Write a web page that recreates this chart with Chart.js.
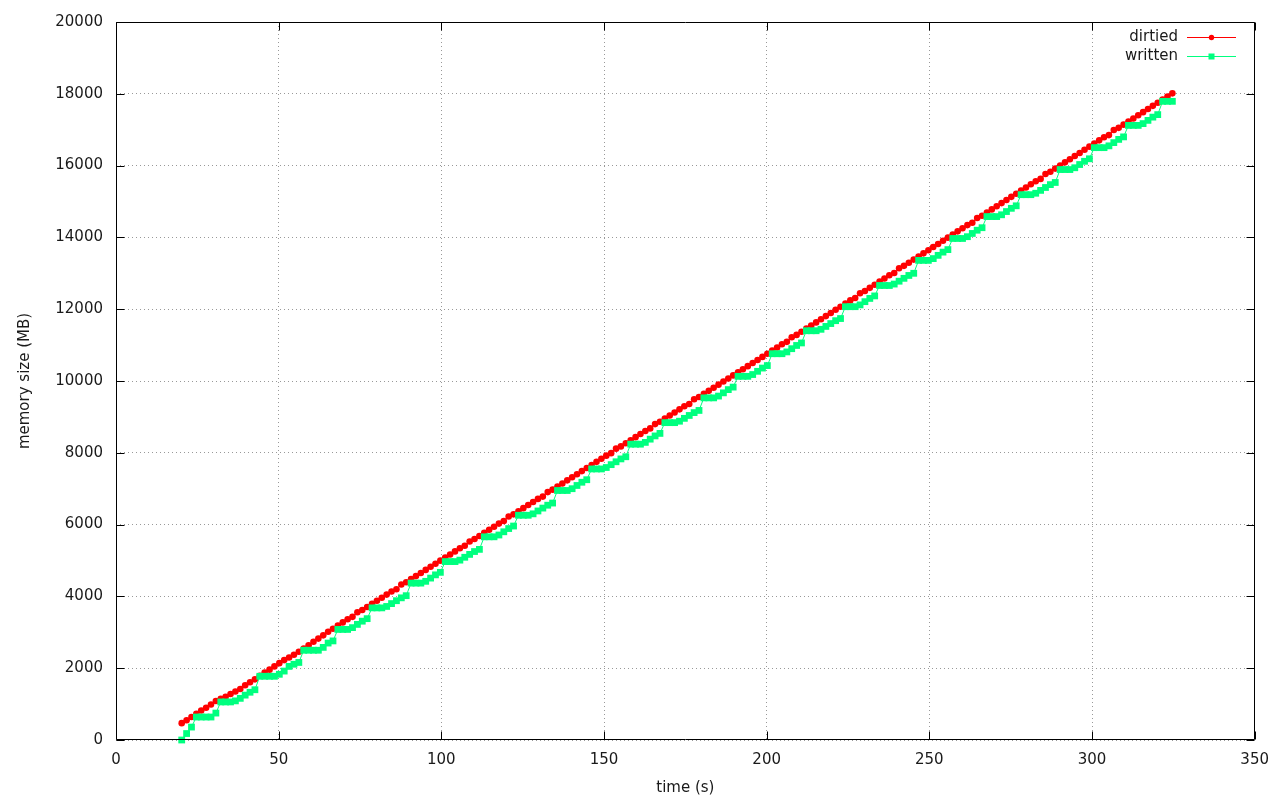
<!DOCTYPE html>
<html><head><meta charset="utf-8">
<script src="https://cdn.jsdelivr.net/npm/chart.js@4/dist/chart.umd.min.js"></script>
<style>html,body{margin:0;padding:0;background:#fff}#wrap{width:1280px;height:800px}</style>
</head><body><div id="wrap"><canvas id="c" width="1280" height="800"></canvas></div>
<script>
const timeSec = [
20.2,21.7,23.2,24.7,26.2,27.7,29.2,30.7,32.2,33.7,
35.2,36.7,38.2,39.7,41.2,42.7,44.2,45.7,47.2,48.7,
50.2,51.7,53.2,54.7,56.2,57.7,59.2,60.7,62.2,63.7,
65.2,66.7,68.2,69.7,71.2,72.7,74.2,75.7,77.2,78.7,
80.2,81.7,83.2,84.7,86.2,87.7,89.2,90.7,92.2,93.7,
95.2,96.7,98.2,99.7,101.2,102.7,104.2,105.7,107.2,108.7,
110.2,111.7,113.2,114.7,116.2,117.7,119.2,120.7,122.2,123.7,
125.2,126.7,128.2,129.7,131.2,132.7,134.2,135.7,137.2,138.7,
140.2,141.7,143.2,144.7,146.2,147.7,149.2,150.7,152.2,153.7,
155.2,156.7,158.2,159.7,161.2,162.7,164.2,165.7,167.2,168.7,
170.2,171.7,173.2,174.7,176.2,177.7,179.2,180.7,182.2,183.7,
185.2,186.7,188.2,189.7,191.2,192.7,194.2,195.7,197.2,198.7,
200.2,201.7,203.2,204.7,206.2,207.7,209.2,210.7,212.2,213.7,
215.2,216.7,218.2,219.7,221.2,222.7,224.2,225.7,227.2,228.7,
230.2,231.7,233.2,234.7,236.2,237.7,239.2,240.7,242.2,243.7,
245.2,246.7,248.2,249.7,251.2,252.7,254.2,255.7,257.2,258.7,
260.2,261.7,263.2,264.7,266.2,267.7,269.2,270.7,272.2,273.7,
275.2,276.7,278.2,279.7,281.2,282.7,284.2,285.7,287.2,288.7,
290.2,291.7,293.2,294.7,296.2,297.7,299.2,300.7,302.2,303.7,
305.2,306.7,308.2,309.7,311.2,312.7,314.2,315.7,317.2,318.7,
320.2,321.7,323.2,324.7
];
const dirtiedMB = [
470,550,640,730,820,900,990,1085,1145,1205,
1280,1350,1420,1525,1610,1690,1790,1880,1960,2050,
2140,2225,2300,2375,2460,2550,2640,2735,2825,2915,
3015,3100,3190,3276,3362,3430,3560,3620,3706,3792,
3878,3964,4050,4136,4200,4330,4394,4480,4566,4652,
4738,4824,4910,4996,5082,5168,5254,5340,5410,5530,
5598,5684,5770,5856,5942,6028,6100,6225,6286,6372,
6458,6544,6630,6716,6780,6905,6974,7060,7146,7232,
7318,7404,7490,7576,7662,7748,7834,7920,7990,8115,
8178,8264,8350,8436,8522,8608,8680,8800,8866,8952,
9038,9124,9210,9296,9360,9490,9554,9640,9726,9812,
9898,9984,10070,10156,10242,10328,10414,10500,10586,10672,
10759,10847,10934,11022,11090,11220,11284,11371,11459,11546,
11633,11721,11808,11896,11983,12070,12158,12245,12310,12445,
12507,12595,12682,12770,12857,12944,13010,13140,13207,13294,
13381,13469,13556,13644,13731,13818,13906,13993,14081,14168,
14255,14343,14410,14540,14605,14692,14780,14867,14955,15042,
15129,15217,15304,15392,15479,15566,15630,15765,15829,15916,
16003,16091,16178,16266,16353,16440,16528,16615,16703,16790,
16850,16990,17052,17140,17227,17314,17402,17489,17577,17664,
17751,17839,17926,18013
];
const writtenMB = [
0,180,360,
640,640,640,640,750,
1060,1060,1060,1090,1160,1250,1330,1400,
1775,1775,1775,1775,1830,1920,2050,2110,2160,
2500,2500,2500,2500,2580,2700,2760,
3080,3080,3080,3130,3220,3310,3380,
3680,3680,3680,3720,3800,3880,3960,4020,
4370,4370,4370,4420,4510,4600,4670,
4970,4970,4970,5010,5090,5170,5250,5310,
5660,5660,5660,5710,5800,5890,5960,
6260,6260,6260,6300,6380,6460,6540,6600,
6950,6950,6950,7000,7090,7180,7250,
7550,7550,7550,7590,7670,7750,7830,7890,
8240,8240,8240,8290,8380,8470,8540,
8840,8840,8840,8880,8960,9040,9120,9180,
9530,9530,9530,9580,9670,9760,9830,
10130,10130,10130,10180,10270,10360,10430,
10760,10760,10760,10810,10900,10990,11060,
11400,11400,11400,11440,11520,11600,11680,11740,
12070,12070,12070,12120,12210,12300,12370,
12660,12660,12660,12700,12780,12860,12940,13000,
13360,13360,13360,13410,13500,13590,13660,
13970,13970,13970,14020,14110,14200,14270,
14580,14580,14580,14630,14720,14810,14880,
15190,15190,15190,15230,15310,15390,15470,15530,
15890,15890,15890,15940,16030,16120,16190,
16500,16500,16500,16550,16640,16730,16800,
17120,17120,17120,17170,17260,17350,17420,
17790,17790,17790
];
const xTicks = [0,50,100,150,200,250,300,350];
const yTicks = [0,2000,4000,6000,8000,10000,12000,14000,16000,18000,20000];
const seriesNames = ['dirtied','written'];
const seriesColors = ['#ff0000','#00ff7f'];
const xTitle = 'time (s)';
const yTitle = 'memory size (MB)';

const FONT = 'DejaVu Sans';
const TXT = '#1a1a1a';

const framePlugin = {
  id: 'frame',
  afterDatasetsDraw(chart) {
    const {ctx, chartArea: a, scales: {x, y}} = chart;
    ctx.save();
    ctx.strokeStyle = '#000';
    ctx.lineWidth = 1;
    const L = Math.round(a.left) + 0.5, R = Math.round(a.right) - 0.5;
    const T = Math.round(a.top) + 0.5, B = Math.round(a.bottom) - 0.5;
    ctx.beginPath();
    ctx.rect(L, T, R - L, B - T);
    const tl = 8;
    xTicks.forEach(v => {
      const px = Math.round(x.getPixelForValue(v)) + 0.5;
      ctx.moveTo(px, B); ctx.lineTo(px, B - tl);
      ctx.moveTo(px, T); ctx.lineTo(px, T + tl);
    });
    yTicks.forEach(v => {
      const py = Math.round(y.getPixelForValue(v)) + 0.5;
      ctx.moveTo(L, py); ctx.lineTo(L + tl, py);
      ctx.moveTo(R, py); ctx.lineTo(R - tl, py);
    });
    ctx.stroke();
    // legend
    ctx.font = '15px "' + FONT + '"';
    ctx.textAlign = 'right';
    ctx.textBaseline = 'middle';
    const rows = [37, 56];
    seriesNames.forEach((name, i) => {
      const yy = rows[i];
      ctx.fillStyle = TXT;
      ctx.fillText(name, 1178, yy);
      ctx.strokeStyle = seriesColors[i];
      ctx.lineWidth = 1;
      ctx.beginPath();
      ctx.moveTo(1187, yy + 0.5); ctx.lineTo(1236, yy + 0.5);
      ctx.stroke();
      ctx.fillStyle = seriesColors[i];
      if (i === 0) {
        ctx.beginPath(); ctx.arc(1211.5, yy + 0.5, 2.7, 0, Math.PI * 2); ctx.fill();
      } else {
        ctx.fillRect(1208.5, yy - 2.5, 6, 6);
      }
    });
    ctx.restore();
  }
};

const toPts = (vals) => timeSec.map((t, i) => ({x: t, y: vals[i]}));

new Chart(document.getElementById('c'), {
  type: 'line',
  data: {
    datasets: [
      {
        label: seriesNames[0], data: toPts(dirtiedMB), order: 1,
        borderColor: seriesColors[0], backgroundColor: seriesColors[0],
        borderWidth: 1, pointStyle: 'circle', pointRadius: 3.3, pointBorderWidth: 0,
        pointBackgroundColor: seriesColors[0], tension: 0, fill: false, clip: false
      },
      {
        label: seriesNames[1], data: toPts(writtenMB), order: 0,
        borderColor: seriesColors[1], backgroundColor: seriesColors[1],
        borderWidth: 1, pointStyle: 'rect', pointRadius: 4.8, pointBorderWidth: 0,
        pointBackgroundColor: seriesColors[1], tension: 0, fill: false, clip: false
      }
    ]
  },
  options: {
    responsive: false, animation: false, devicePixelRatio: 1,
    layout: {padding: {top: 18, right: 25, left: 0, bottom: 0}},
    plugins: {legend: {display: false}, tooltip: {enabled: false}},
    scales: {
      x: {
        type: 'linear', min: 0, max: 350,
        afterBuildTicks: s => { s.ticks = xTicks.map(v => ({value: v})); },
        afterFit: s => { s.height = 60; },
        ticks: {callback: v => String(v), padding: 11, color: TXT, font: {family: FONT, size: 15}, maxRotation: 0},
        grid: {color: '#999', lineWidth: 1, drawTicks: false},
        border: {display: false, dash: [1, 3]},
        title: {display: true, text: xTitle, color: TXT, font: {family: FONT, size: 15}, padding: {top: 3, bottom: 3}}
      },
      y: {
        type: 'linear', min: 0, max: 20000,
        afterBuildTicks: s => { s.ticks = yTicks.map(v => ({value: v})); },
        afterFit: s => { s.width = 116; },
        ticks: {callback: v => String(v), padding: 13, color: TXT, font: {family: FONT, size: 15}},
        grid: {color: '#999', lineWidth: 1, drawTicks: false},
        border: {display: false, dash: [1, 3]},
        title: {display: true, text: yTitle, color: TXT, font: {family: FONT, size: 15}, padding: {top: 16, bottom: 0}}
      }
    }
  },
  plugins: [framePlugin]
});
</script>
</body></html>
